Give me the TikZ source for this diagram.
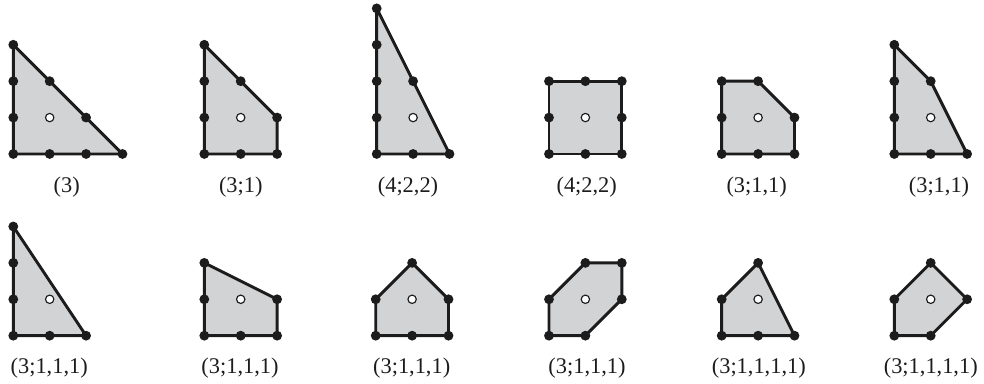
\documentclass[tikz,border=0pt]{standalone}
\usepackage{fontspec}
\setmainfont{Liberation Serif}
\usepackage{tikz}
\definecolor{polygray}{RGB}{209,211,212}
\definecolor{dotblack}{RGB}{28,28,28}
%% one lattice polygon: shift, vertex path, lattice points on the boundary
\newcommand{\lattpoly}[3]{%
  \begin{scope}[shift={#1}]
    \filldraw[poly] #2 -- cycle;
    \foreach \p in {#3} \fill[pt] \p circle (0.135);
    \filldraw[hole] (1,1) circle (0.115);
  \end{scope}}

\begin{document}
\begin{tikzpicture}[
  poly/.style={draw=dotblack, fill=polygray, line width=2.3pt, line join=round},
  pt/.style={dotblack},
  hole/.style={draw=dotblack, fill=white, line width=0.9pt},
  lab/.style={font=\fontsize{17.5}{20}\selectfont, inner sep=0pt, text=dotblack}
]
  \useasboundingbox (0,0) rectangle (27.033,10.549);

  %% Top row
  \lattpoly{(0.365,6.319)}{(0,0) -- (3,0) -- (0,3)}
    {(0,0),(1,0),(2,0),(3,0),(0,1),(0,2),(0,3),(1,2),(2,1)}
  \lattpoly{(5.613,6.319)}{(0,0) -- (2,0) -- (2,1) -- (0,3)}
    {(0,0),(1,0),(2,0),(2,1),(1,2),(0,3),(0,2),(0,1)}
  \lattpoly{(10.349,6.319)}{(0,0) -- (2,0) -- (0,4)}
    {(0,0),(1,0),(2,0),(1,2),(0,4),(0,3),(0,2),(0,1)}
  \lattpoly{(15.082,6.319)}{(0,0) -- (2,0) -- (2,2) -- (0,2)}
    {(0,0),(1,0),(2,0),(2,1),(2,2),(1,2),(0,2),(0,1)}
  \lattpoly{(19.827,6.319)}{(0,0) -- (2,0) -- (2,1) -- (1,2) -- (0,2)}
    {(0,0),(1,0),(2,0),(2,1),(1,2),(0,2),(0,1)}
  \lattpoly{(24.569,6.319)}{(0,0) -- (2,0) -- (1,2) -- (0,3)}
    {(0,0),(1,0),(2,0),(1,2),(0,3),(0,2),(0,1)}

  \node[lab] (l1) at (1.832,5.412)  {(3)};
  \node[lab] (l2) at (6.615,5.412)  {(3;1)};
  \node[lab] (l3) at (11.209,5.412) {(4;2,2)};
  \node[lab] (l4) at (16.118,5.412) {(4;2,2)};
  \node[lab] (l5) at (20.788,5.412) {(3;1,1)};
  \node[lab] (l6) at (25.797,5.412) {(3;1,1)};

  %% Bottom row
  \lattpoly{(0.365,1.327)}{(0,0) -- (2,0) -- (0,3)}
    {(0,0),(1,0),(2,0),(0,3),(0,2),(0,1)}
  \lattpoly{(5.613,1.327)}{(0,0) -- (2,0) -- (2,1) -- (0,2)}
    {(0,0),(1,0),(2,0),(2,1),(0,2),(0,1)}
  \lattpoly{(10.322,1.327)}{(0,0) -- (2,0) -- (2,1) -- (1,2) -- (0,1)}
    {(0,0),(1,0),(2,0),(2,1),(1,2),(0,1)}
  \lattpoly{(15.082,1.327)}{(0,0) -- (1,0) -- (2,1) -- (2,2) -- (1,2) -- (0,1)}
    {(0,0),(1,0),(2,1),(2,2),(1,2),(0,1)}
  \lattpoly{(19.827,1.327)}{(0,0) -- (2,0) -- (1,2) -- (0,1)}
    {(0,0),(1,0),(2,0),(1,2),(0,1)}
  \lattpoly{(24.569,1.327)}{(0,0) -- (1,0) -- (2,1) -- (1,2) -- (0,1)}
    {(0,0),(1,0),(2,1),(1,2),(0,1)}

  \node[lab] (l7)  at (1.352,0.44)  {(3;1,1,1)};
  \node[lab] (l8)  at (6.593,0.44)  {(3;1,1,1)};
  \node[lab] (l9)  at (11.31,0.44)  {(3;1,1,1)};
  \node[lab] (l10) at (16.126,0.44) {(3;1,1,1)};
  \node[lab] (l11) at (20.846,0.44) {(3;1,1,1,1)};
  \node[lab] (l12) at (25.571,0.44) {(3;1,1,1,1)};
\end{tikzpicture}
\end{document}
